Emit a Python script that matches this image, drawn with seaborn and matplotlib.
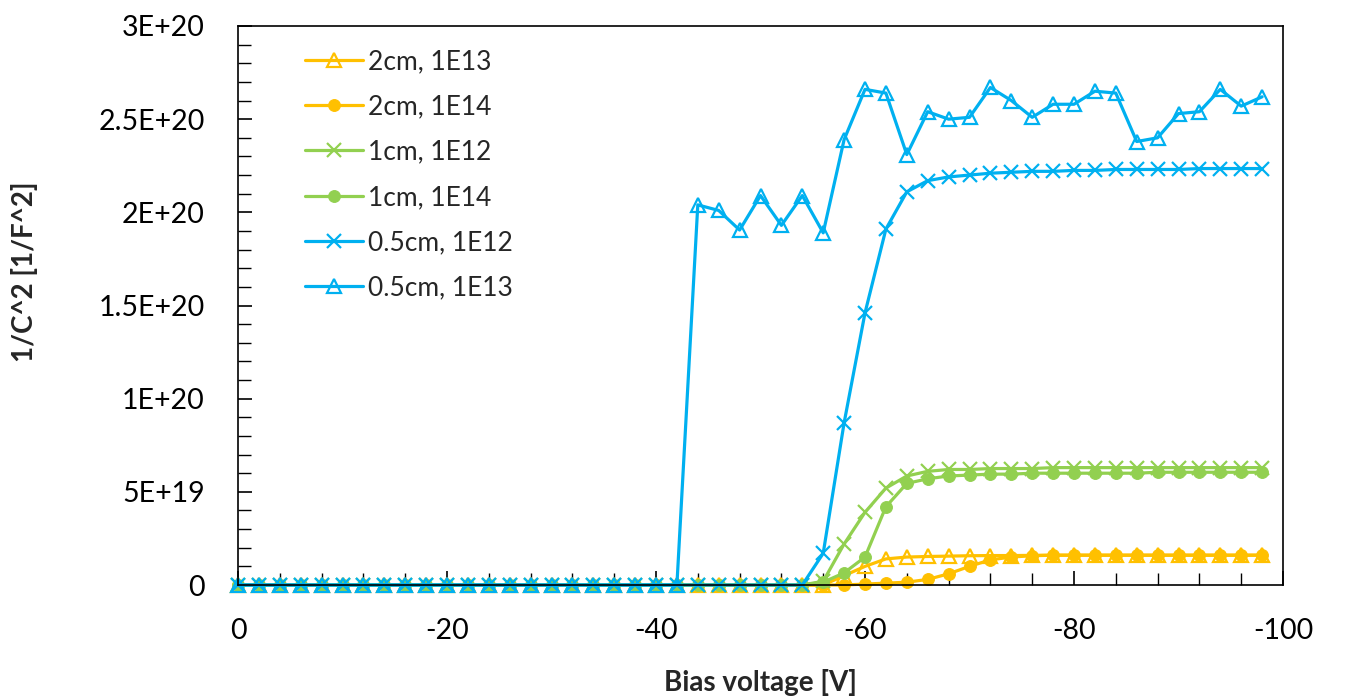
import numpy as np
import pandas as pd
import matplotlib
matplotlib.use("Agg")
import matplotlib.pyplot as plt
from matplotlib.ticker import MultipleLocator, FuncFormatter
import seaborn as sns

# ---------------- data (y values in units of 1E20 [1/F^2]) ----------------
bias_voltage = [0, -2, -4, -6, -8, -10, -12, -14, -16, -18,
                -20, -22, -24, -26, -28, -30, -32, -34, -36, -38,
                -40, -42, -44, -46, -48, -50, -52, -54, -56, -58,
                -60, -62, -64, -66, -68, -70, -72, -74, -76, -78,
                -80, -82, -84, -86, -88, -90, -92, -94, -96, -98]

zeros28 = [0.0] * 28

cm2_1e13 = zeros28 + [0.0, 0.05, 0.10, 0.14, 0.15, 0.153, 0.155, 0.157, 0.158, 0.158, 0.159,
                      0.16, 0.16, 0.16, 0.16, 0.16, 0.16, 0.16, 0.16, 0.16, 0.16, 0.16]
cm2_1e14 = zeros28 + [0.0, 0.0, 0.005, 0.01, 0.015, 0.03, 0.06, 0.10, 0.135, 0.15, 0.157, 0.16,
                      0.16, 0.16, 0.16, 0.16, 0.16, 0.16, 0.16, 0.16, 0.16, 0.16]
cm1_1e12 = zeros28 + [0.02, 0.22, 0.39, 0.52, 0.585, 0.61, 0.62, 0.62, 0.625, 0.625, 0.625,
                      0.63, 0.63, 0.63, 0.63, 0.63, 0.63, 0.63, 0.63, 0.63, 0.63, 0.63]
cm1_1e14 = zeros28 + [0.015, 0.065, 0.15, 0.42, 0.545, 0.57, 0.585, 0.59, 0.595, 0.595, 0.60,
                      0.60, 0.60, 0.60, 0.60, 0.60, 0.605, 0.605, 0.605, 0.605, 0.605, 0.605]
cm05_1e12 = zeros28 + [0.17, 0.87, 1.46, 1.91, 2.11, 2.17, 2.19, 2.20, 2.21, 2.215, 2.22,
                       2.22, 2.225, 2.225, 2.23, 2.23, 2.23, 2.23, 2.235, 2.235, 2.235, 2.235]
cm05_1e13 = [0.0] * 22 + [2.04, 2.01, 1.905, 2.09, 1.93, 2.09, 1.89, 2.39, 2.66, 2.64,
                          2.31, 2.54, 2.50, 2.51, 2.67, 2.60, 2.51, 2.58, 2.58, 2.65,
                          2.64, 2.38, 2.40, 2.53, 2.54, 2.66, 2.57, 2.62]

labels = ["2cm, 1E13", "2cm, 1E14", "1cm, 1E12", "1cm, 1E14", "0.5cm, 1E12", "0.5cm, 1E13"]
series = [cm2_1e13, cm2_1e14, cm1_1e12, cm1_1e14, cm05_1e12, cm05_1e13]
colors = ["#FFC000", "#FFC000", "#92D050", "#92D050", "#00B0F0", "#00B0F0"]
markers = ["^", "o", "x", "o", "x", "^"]
UNIT = 1e20

# ---------------- style ----------------
sns.set_style("white")
plt.rcParams["font.family"] = ["Lato", "DejaVu Sans"]
plt.rcParams["axes.unicode_minus"] = False

fig = plt.figure(figsize=(13.47, 6.96), dpi=100)
ax = fig.add_axes([238 / 1347, (696 - 585) / 696, (1283 - 238) / 1347, (585 - 26) / 696])

for lab, vals, col, mk in zip(labels, series, colors, markers):
    df = pd.DataFrame({"V": bias_voltage, "C": np.array(vals) * UNIT})
    kw = dict(color=col, marker=mk, linewidth=2.3, markersize=8.5, clip_on=False)
    if mk == "^":
        kw.update(markerfacecolor="none", markeredgecolor=col, markeredgewidth=1.6, markersize=10)
    elif mk == "x":
        kw.update(markeredgecolor=col, markeredgewidth=1.6, markersize=10.5)
    else:
        kw.update(markeredgecolor=col, markerfacecolor=col, markersize=8.5)
    sns.lineplot(data=df, x="V", y="C", ax=ax, label=lab, **kw)

ax.set_xlim(0, -100)
ax.set_ylim(0, 3e20)

ax.xaxis.set_major_locator(MultipleLocator(20))
ax.xaxis.set_minor_locator(MultipleLocator(4))
ax.yaxis.set_major_locator(MultipleLocator(5e19))
ax.yaxis.set_minor_locator(MultipleLocator(1e19))


def yfmt(v, pos):
    if abs(v) < 1:
        return "0"
    exp = int(np.floor(np.log10(abs(v)) + 1e-9))
    mant = v / 10 ** exp
    ms = ("%.1f" % mant).rstrip("0").rstrip(".")
    return "%sE+%d" % (ms, exp)


ax.yaxis.set_major_formatter(FuncFormatter(yfmt))
ax.xaxis.set_major_formatter(FuncFormatter(lambda v, p: "%d" % round(v)))

ax.tick_params(axis="both", which="both", direction="in", color="black",
               labelsize=20.5, labelcolor="#000000")
ax.tick_params(axis="both", which="major", length=10, width=1.2)
ax.tick_params(axis="both", which="minor", length=9, width=1.0)
ax.tick_params(axis="y", which="major", pad=24)
ax.tick_params(axis="x", which="major", pad=24)
ax.tick_params(axis="y", which="both", left=True, right=False)
ax.tick_params(axis="x", which="both", bottom=True, top=False)

for s in ax.spines.values():
    s.set_visible(True)
    s.set_color("black")
    s.set_linewidth(1.2)

ax.set_xlabel("Bias voltage [V]", fontsize=20, fontweight="bold", labelpad=18)
ax.set_ylabel("1/C^2 [1/F^2]", fontsize=20, fontweight="bold", labelpad=14)
ax.yaxis.set_label_coords(-(238 - 38) / 1045, (585 - 272) / 559)

leg = ax.legend(loc="upper left", bbox_to_anchor=(67 / 1045, 1 - 23 / 559), frameon=False,
                fontsize=19, handlelength=2.2, handletextpad=0.2, labelspacing=0.77,
                borderpad=0, borderaxespad=0)

fig.savefig("out.png", dpi=100, facecolor="white")
